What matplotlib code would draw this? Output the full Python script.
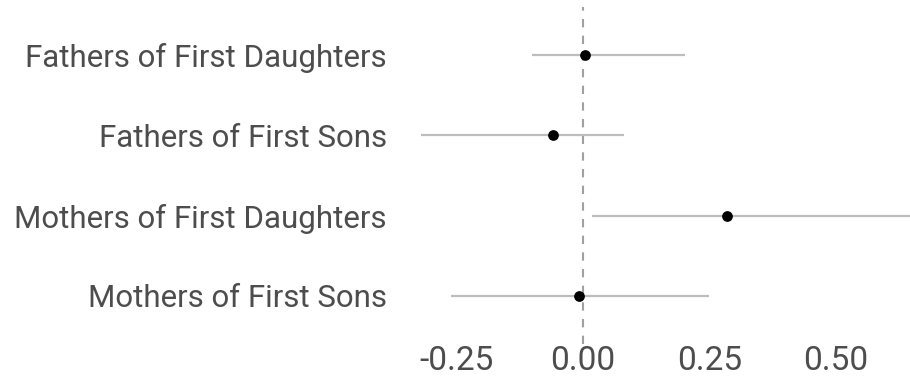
import numpy as np
import matplotlib.pyplot as plt

# point estimates with confidence bounds, top row first
groups = ['Fathers of First Daughters', 'Fathers of First Sons',
          'Mothers of First Daughters', 'Mothers of First Sons']
estimate = [0.003, -0.060, 0.284, -0.008]
ci_low = [-0.100, -0.321, 0.018, -0.260]
ci_high = [0.201, 0.081, 0.690, 0.248]
xticks = [-0.25, 0.0, 0.25, 0.50]

plt.rcParams['font.family'] = ['Roboto', 'DejaVu Sans']
text_col = '#4d4d4d'

fig = plt.figure(figsize=(9.10, 3.81), dpi=100)
ax = fig.add_axes([395 / 910, 1 - 344 / 381, 1 - 395 / 910, (344 - 7) / 381])

y = np.arange(len(groups))[::-1] + 1

ax.axvline(0, color='#a0a0a0', lw=1.5, ls=(0, (4, 4)), zorder=1)
ax.hlines(y, ci_low, ci_high, color='#bdbdbd', lw=1.6, zorder=2)
ax.scatter(estimate, y, s=45, color='black', zorder=3)

ax.set_xlim(-0.3715, 0.646)
ax.set_ylim(0.4, len(groups) + 0.6)
ax.set_yticks(y)
ax.set_yticklabels(groups)
ax.set_xticks(xticks)
ax.set_xticklabels([f'{t:.2f}' for t in xticks])
ax.tick_params(length=0, labelcolor=text_col)
ax.tick_params(axis='y', pad=6, labelsize=22.5)
ax.tick_params(axis='x', pad=1, labelsize=24)
for s in ax.spines.values():
    s.set_visible(False)

fig.savefig('out.png', dpi=100, facecolor='white')
